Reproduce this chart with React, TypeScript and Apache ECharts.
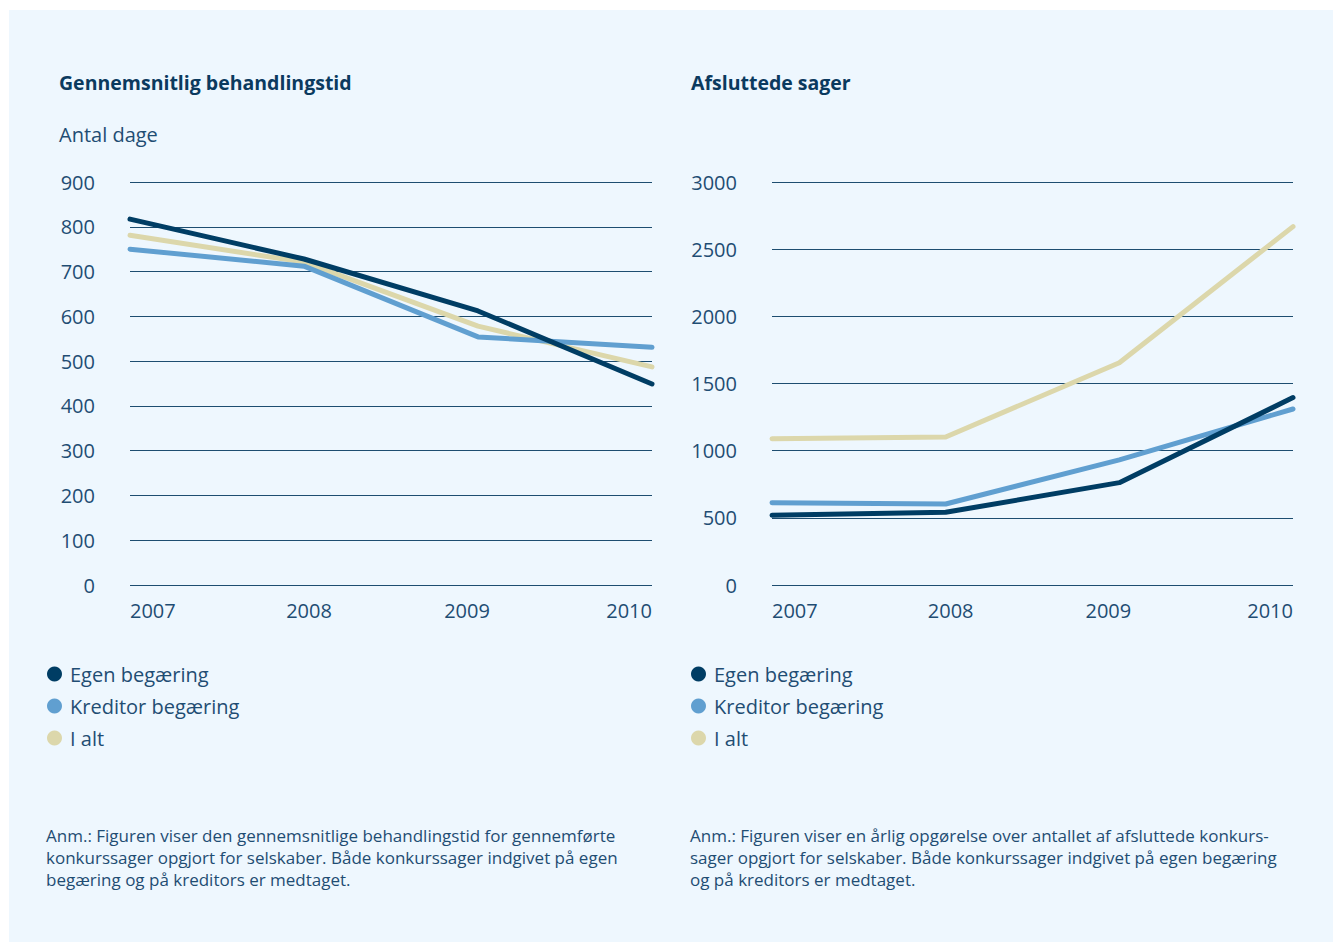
import React, { useEffect, useRef } from "react";
import * as echarts from "echarts";

const years = ["2007", "2008", "2009", "2010"];
const seriesNames = ["Egen begæring", "Kreditor begæring", "I alt"];

// Gennemsnitlig behandlingstid (antal dage)
const daysEgen = [817, 728, 612, 449];
const daysKreditor = [750, 712, 554, 531];
const daysIalt = [781, 721, 578, 487];

// Afsluttede sager
const casesEgen = [519, 541, 762, 1395];
const casesKreditor = [613, 603, 931, 1310];
const casesIalt = [1089, 1102, 1655, 2668];

const leftTicks = [0, 900, 100];
const rightTicks = [0, 3000, 500];

const titleLeft = "Gennemsnitlig behandlingstid";
const titleRight = "Afsluttede sager";
const unitLeft = "Antal dage";
const noteLeft =
  "Anm.: Figuren viser den gennemsnitlige behandlingstid for gennemførte\nkonkurssager opgjort for selskaber. Både konkurssager indgivet på egen\nbegæring og på kreditors er medtaget.";
const noteRight =
  "Anm.: Figuren viser en årlig opgørelse over antallet af afsluttede konkurs-\nsager opgjort for selskaber. Både konkurssager indgivet på egen begæring\nog på kreditors er medtaget.";

const colors = ["#003d64", "#609fd0", "#dcd7ab"];
const FONT = "'Open Sans', 'Noto Sans', sans-serif";
const TEXT = "#1f4d73";
const TITLE = "#0b3a5e";

export default function App() {
  const ref = useRef<HTMLDivElement>(null);

  useEffect(() => {
    document.body.style.margin = "0";
    const chart = echarts.init(ref.current!, null, { renderer: "svg" });

    const labelRich = {
      y0: { fontSize: 20, color: TEXT, fontFamily: FONT },
      y1: { fontSize: 20, color: TEXT, fontFamily: FONT, padding: [0, 0, 0, 10] },
      y2: { fontSize: 20, color: TEXT, fontFamily: FONT, padding: [0, 22, 0, 0] },
      y3: { fontSize: 20, color: TEXT, fontFamily: FONT },
    };

    const xAxisBase = (gridIndex: number) => ({
      type: "category",
      gridIndex,
      data: years,
      boundaryGap: false,
      axisLine: { show: false },
      axisTick: { show: false },
      axisLabel: {
        fontSize: 20,
        color: TEXT,
        fontFamily: FONT,
        margin: 15,
        alignMinLabel: "left",
        alignMaxLabel: "right",
        formatter: (v: string, i: number) => `{y${i}|${v}}`,
        rich: labelRich,
      },
      splitLine: { show: false },
    });

    const yAxisBase = (gridIndex: number, t: number[]) => ({
      type: "value",
      gridIndex,
      min: t[0],
      max: t[1],
      interval: t[2],
      axisLine: { show: false },
      axisTick: { show: false },
      axisLabel: {
        fontSize: 20,
        color: TEXT,
        fontFamily: FONT,
        margin: 35,
        formatter: (v: number) => String(v),
      },
      splitLine: { lineStyle: { color: "#1d4d70", width: 1 } },
    });

    const mkSeries = (name: string, data: number[], idx: number, axis: number) => ({
      type: "line",
      name,
      data,
      xAxisIndex: axis,
      yAxisIndex: axis,
      symbol: "none",
      z: 10 - idx,
      lineStyle: { color: colors[idx], width: 5, cap: "round", join: "round" },
      itemStyle: { color: colors[idx] },
    });

    const legendBase = (left: number) => ({
      orient: "vertical",
      left,
      top: 658,
      icon: "circle",
      itemWidth: 15,
      itemHeight: 15,
      itemGap: 10,
      data: seriesNames,
      textStyle: { fontSize: 20, color: TEXT, fontFamily: FONT, lineHeight: 22, padding: [0, 0, 0, 3] },
      selectedMode: false,
    });

    chart.setOption({
      animation: false,
      backgroundColor: "#ffffff",
      textStyle: { fontFamily: FONT },
      graphic: [
        {
          type: "rect",
          z: -10,
          silent: true,
          shape: { x: 9, y: 10, width: 1324, height: 940 },
          style: { fill: "#eef7fe" },
        },
        {
          type: "text",
          left: 59,
          top: 72,
          style: { text: titleLeft, fontSize: 19.5, fontWeight: "bold", fill: TITLE, fontFamily: FONT },
        },
        {
          type: "text",
          left: 691,
          top: 72,
          style: { text: titleRight, fontSize: 19.5, fontWeight: "bold", fill: TITLE, fontFamily: FONT },
        },
        {
          type: "text",
          left: 59,
          top: 124,
          style: { text: unitLeft, fontSize: 20, fill: TEXT, fontFamily: FONT },
        },
        {
          type: "text",
          left: 46,
          top: 824,
          style: { text: noteLeft, fontSize: 17, lineHeight: 22, fill: TEXT, fontFamily: FONT },
        },
        {
          type: "text",
          left: 690,
          top: 824,
          style: { text: noteRight, fontSize: 17, lineHeight: 22, fill: TEXT, fontFamily: FONT },
        },
      ],
      grid: [
        { left: 130, width: 522, top: 182, height: 403 },
        { left: 772, width: 521, top: 182, height: 403 },
      ],
      xAxis: [xAxisBase(0), xAxisBase(1)],
      yAxis: [yAxisBase(0, leftTicks), yAxisBase(1, rightTicks)],
      legend: [legendBase(42), legendBase(686)],
      series: [
        mkSeries(seriesNames[2], daysIalt, 2, 0),
        mkSeries(seriesNames[1], daysKreditor, 1, 0),
        mkSeries(seriesNames[0], daysEgen, 0, 0),
        mkSeries(seriesNames[2], casesIalt, 2, 1),
        mkSeries(seriesNames[1], casesKreditor, 1, 1),
        mkSeries(seriesNames[0], casesEgen, 0, 1),
      ],
    });

    return () => chart.dispose();
  }, []);

  return <div ref={ref} style={{ width: 1338, height: 942 }} />;
}
